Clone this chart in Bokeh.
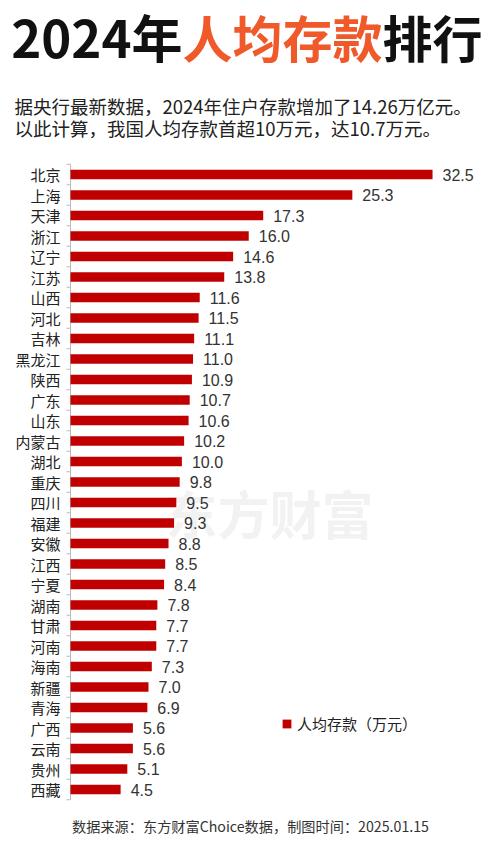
from bokeh.plotting import figure
from bokeh.models import Range1d, ColumnDataSource, Legend, LegendItem, Label
from bokeh.layouts import column
from bokeh.core.properties import value
from bokeh.embed import file_html
from bokeh.resources import INLINE

provinces = ["北京", "上海", "天津", "浙江", "辽宁", "江苏", "山西", "河北", "吉林", "黑龙江",
             "陕西", "广东", "山东", "内蒙古", "湖北", "重庆", "四川", "福建", "安徽", "江西",
             "宁夏", "湖南", "甘肃", "河南", "海南", "新疆", "青海", "广西", "云南", "贵州", "西藏"]
deposits = [32.5, 25.3, 17.3, 16.0, 14.6, 13.8, 11.6, 11.5, 11.1, 11.0,
            10.9, 10.7, 10.6, 10.2, 10.0, 9.8, 9.5, 9.3, 8.8, 8.5,
            8.4, 7.8, 7.7, 7.7, 7.3, 7.0, 6.9, 5.6, 5.6, 5.1, 4.5]
series_name = "人均存款（万元）"
title_parts = ["2024年", "人均存款", "排行"]
subtitle_lines = ["据央行最新数据，2024年住户存款增加了14.26万亿元。",
                  "以此计算，我国人均存款首超10万元，达10.7万元。"]
footer_text = "数据来源：东方财富Choice数据，制图时间：2025.01.15"
watermark = "东方财富"

FONT = "Noto Sans CJK SC"
CJK = value(FONT)
W = 500


def blank(height, xr, yr):
    f = figure(width=W, height=height, x_range=xr, y_range=yr,
               toolbar_location=None, output_backend="svg", min_border=0,
               x_axis_location=None, y_axis_location=None, outline_line_color=None)
    f.grid.visible = False
    return f


# ---------- header (pixel coordinates, y downward) ----------
HH = 150
head = blank(HH, Range1d(0, W), Range1d(HH, 0))
fs = 50
x0 = 182
ty = 35.5
head.text(x=[x0], y=[ty], text=[title_parts[0]], text_align="right", text_baseline="middle",
          text_font=CJK, text_font_size="51px", text_font_style="bold", text_color="#111111")
head.text(x=[x0], y=[ty], text=[title_parts[1]], text_align="left", text_baseline="middle",
          text_font=CJK, text_font_size=f"{fs}px", text_font_style="bold", text_color="#F0592A")
head.text(x=[x0 + 4 * fs], y=[ty], text=[title_parts[2]], text_align="left", text_baseline="middle",
          text_font=CJK, text_font_size=f"{fs}px", text_font_style="bold", text_color="#111111")
head.text(x=[14, 14], y=[105, 127], text=subtitle_lines, text_align="left", text_baseline="middle",
          text_font=CJK, text_font_size="18.5px", text_color="#222222")

# ---------- bar chart ----------
n = len(provinces)
idx = list(range(n))
src = ColumnDataSource(dict(idx=idx, val=deposits, lbl=[f"{v:.1f}" for v in deposits]))
cat_src = ColumnDataSource(dict(idx=idx, name=provinces))
bounds = ColumnDataSource(dict(b=[i - 0.5 for i in range(n + 1)]))

BH = 660
AXIS_X = 70            # pixel position of the value axis (x = 0)
XMAX = 38.6            # value at the right edge of the chart
k = (W - AXIS_X) / XMAX           # pixels per value unit
TOP_PAD, BOT_PAD = 13.75, 10.75
row = (BH - TOP_PAD - BOT_PAD) / n  # pixels per category row

p = blank(BH, Range1d(-AXIS_X / k, XMAX),
          Range1d(n - 0.5 + BOT_PAD / row, -0.5 - TOP_PAD / row))

wm = Label(x=165, y=298, x_units="screen", y_units="screen", text=watermark,
           text_font=FONT, text_font_size="52px", text_font_style="bold",
           text_color="#000000", text_alpha=0.05, text_baseline="middle", level="underlay")
p.add_layout(wm)

# axis line and ticks between categories
p.segment(x0=[0], x1=[0], y0=[-0.5], y1=[n - 0.5], line_color="#bbbbbb", line_width=1)
p.segment(x0=-4 / k, x1=0, y0="b", y1="b", source=bounds, line_color="#bbbbbb", line_width=1)

bars = p.hbar(y="idx", right="val", left=0, height=0.46, source=src,
              fill_color="#C00000", line_color=None)
p.text(x="val", y="idx", text="lbl", source=src, x_offset=10, text_baseline="middle",
       text_align="left", text_font=value("Liberation Sans"), text_font_size="16px",
       text_color="#333333")
p.text(x=0, y="idx", text="name", source=cat_src, x_offset=-10, text_baseline="middle",
       text_align="right", text_font=CJK, text_font_size="15px", text_color="#222222")

legend = Legend(items=[LegendItem(label=series_name, renderers=[bars])],
                location=(281, 76), padding=0, margin=0, border_line_color=None,
                background_fill_alpha=0, glyph_width=11, glyph_height=11, label_standoff=5,
                label_text_font=FONT, label_text_font_size="15px",
                label_text_color="#222222", label_height=11)
p.add_layout(legend)

# ---------- footer ----------
FH = 33
foot = blank(FH, Range1d(0, W), Range1d(FH, 0))
foot.text(x=[250], y=[15], text=[footer_text], text_align="center", text_baseline="middle",
          text_font=CJK, text_font_size="14.2px", text_color="#333333")

layout = column(head, p, foot, spacing=0)
open("out.html", "w").write(file_html(layout, INLINE))
